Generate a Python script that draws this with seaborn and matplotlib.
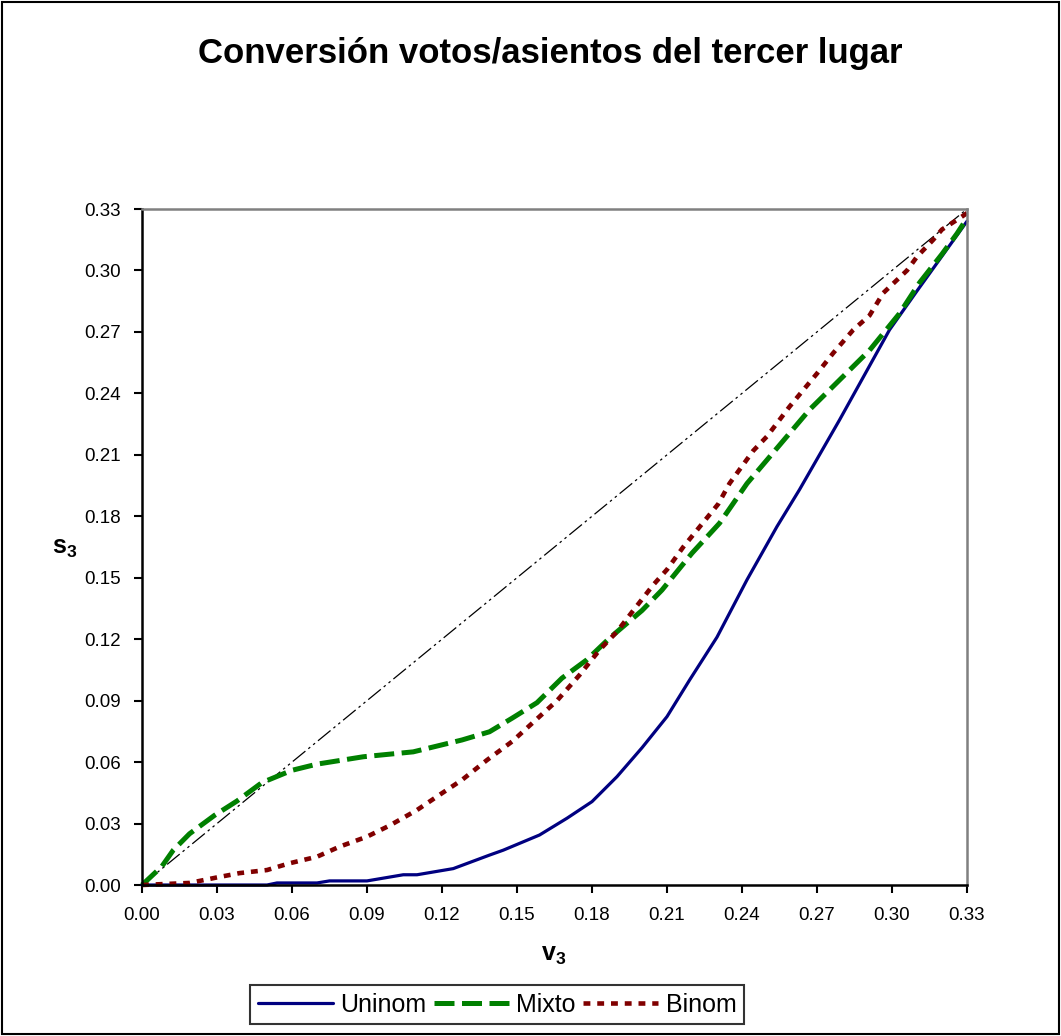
import matplotlib
matplotlib.use('Agg')

import pandas as pd
import seaborn as sns
import matplotlib.pyplot as plt
from matplotlib.patches import Rectangle
from matplotlib.lines import Line2D

# Values
uninom_x = [0, 0.05, 0.054, 0.07, 0.075, 0.09, 0.1045, 0.11, 0.1245, 0.139, 0.1445, 0.159, 0.170,
            0.180, 0.190, 0.200, 0.210, 0.219, 0.230, 0.242, 0.254, 0.263, 0.279, 0.299, 0.310, 0.330]
uninom_y = [0, 0, 0.001, 0.001, 0.002, 0.002, 0.005, 0.005, 0.008, 0.0146, 0.017, 0.0244, 0.0326,
            0.0407, 0.0529, 0.067, 0.0822, 0.100, 0.121, 0.149, 0.175, 0.193, 0.227, 0.271, 0.290, 0.324]

mixto_x = [0, 0.0079, 0.0125, 0.019, 0.029, 0.038, 0.048, 0.060, 0.070, 0.0885, 0.1085, 0.128, 0.139,
           0.148, 0.158, 0.168, 0.178, 0.187, 0.200, 0.208, 0.220, 0.231, 0.242, 0.250, 0.267, 0.279,
           0.291, 0.303, 0.311, 0.320, 0.326, 0.330]
mixto_y = [0, 0.009, 0.017, 0.025, 0.034, 0.041, 0.050, 0.056, 0.059, 0.0626, 0.065, 0.0708, 0.0748,
           0.0814, 0.089, 0.101, 0.110, 0.1205, 0.134, 0.144, 0.162, 0.1766, 0.196, 0.2075, 0.232, 0.2465,
           0.261, 0.279, 0.294, 0.308, 0.318, 0.3255]

binom_x = [0, 0.019, 0.030, 0.039, 0.05, 0.059, 0.070, 0.079, 0.090, 0.099, 0.110, 0.119, 0.128, 0.138,
           0.148, 0.157, 0.166, 0.175, 0.183, 0.190, 0.1965, 0.2045, 0.210, 0.2165, 0.2245, 0.2305, 0.235,
           0.2445, 0.250, 0.259, 0.2645, 0.270, 0.2765, 0.2845, 0.291, 0.2965, 0.306, 0.310, 0.3165, 0.320,
           0.327, 0.330]
binom_y = [0, 0.001, 0.0037, 0.0058, 0.0073, 0.0106, 0.0138, 0.0187, 0.0236, 0.029, 0.0366, 0.044, 0.0513,
           0.061, 0.070, 0.080, 0.090, 0.1025, 0.1147, 0.1237, 0.134, 0.1465, 0.154, 0.165, 0.177, 0.186,
           0.196, 0.212, 0.219, 0.2335, 0.2416, 0.2497, 0.2597, 0.271, 0.278, 0.289, 0.300, 0.3067, 0.315,
           0.320, 0.3255, 0.328]

diag_x = [0, 0.33]
diag_y = [0, 0.33]

ticks = [0.00, 0.03, 0.06, 0.09, 0.12, 0.15, 0.18, 0.21, 0.24, 0.27, 0.30, 0.33]
series_names = ['Uninom', 'Mixto', 'Binom']

sns.set_style('white')
plt.rcParams['font.family'] = ['Liberation Sans', 'DejaVu Sans']
plt.rcParams['text.color'] = 'black'
plt.rcParams['mathtext.fontset'] = 'custom'
plt.rcParams['mathtext.rm'] = 'Liberation Sans'
plt.rcParams['mathtext.bf'] = 'Liberation Sans:bold'

W, H = 1061, 1036
fig = plt.figure(figsize=(W / 100, H / 100), dpi=100)
ax = fig.add_axes([142 / W, 1 - 885 / H, (967 - 142) / W, (885 - 209) / H])

# Series styles (Excel-like)
styles = {
    'Uninom': dict(color='#000080', lw=2.3, ls='-'),
    'Mixto': dict(color='#008000', lw=3.6, ls=(0, (4.0, 1.5))),
    'Binom': dict(color='#800000', lw=3.3, ls=(0, (1.5, 1.5))),
}
data = {
    'Uninom': (uninom_x, uninom_y),
    'Mixto': (mixto_x, mixto_y),
    'Binom': (binom_x, binom_y),
}

sns.lineplot(x=diag_x, y=diag_y, ax=ax, color='black', lw=0.9,
             linestyle=(0, (13, 3, 2, 3, 2, 3)), sort=False, legend=False)

for name in series_names:
    xs, ys = data[name]
    df = pd.DataFrame({'v': xs, 's': ys})
    st = styles[name]
    sns.lineplot(data=df, x='v', y='s', ax=ax, color=st['color'], lw=st['lw'],
                 linestyle=st['ls'], sort=False, legend=False, clip_on=False)

ax.set_xlim(0, 0.33)
ax.set_ylim(0, 0.33)
ax.set_xticks(ticks)
ax.set_yticks(ticks)
ax.set_xticklabels([f'{t:.2f}' for t in ticks])
ax.set_yticklabels([f'{t:.2f}' for t in ticks])
ax.tick_params(axis='both', direction='out', length=6, width=1.5, colors='black',
               labelsize=13.5, bottom=True, left=True)
ax.tick_params(axis='x', pad=10)
ax.tick_params(axis='y', pad=9)
ax.set_xlabel('')
ax.set_ylabel('')

for side in ['left', 'bottom']:
    ax.spines[side].set_color('black')
    ax.spines[side].set_linewidth(1.8)
for side in ['top', 'right']:
    ax.spines[side].set_color('#808080')
    ax.spines[side].set_linewidth(1.8)

fig.text(550 / W, 1 - 53 / H, 'Conversión votos/asientos del tercer lugar',
         ha='center', va='center', fontsize=25, fontweight='bold', color='black')
fig.text(554 / W, 1 - 955 / H, r'v$_\mathbf{3}$', ha='center', va='center',
         fontsize=18, fontweight='bold', color='black')
fig.text(65 / W, 1 - 548 / H, r's$_\mathbf{3}$', ha='center', va='center',
         fontsize=18, fontweight='bold', color='black')

handles = [Line2D([], [], color=styles[n]['color'], lw=styles[n]['lw'], ls=styles[n]['ls'])
           for n in series_names]
leg = fig.legend(handles, series_names, loc='center',
                 bbox_to_anchor=(497 / W, 1 - 1004.5 / H), ncol=3, fontsize=18,
                 frameon=True, fancybox=False, handlelength=3.0, handletextpad=0.3,
                 columnspacing=0.3, borderpad=0.3)
leg.get_frame().set_edgecolor('black')
leg.get_frame().set_linewidth(1.5)
for t in leg.get_texts():
    t.set_color('black')

fig.patches.append(Rectangle((0.002, 0.002), 0.996, 0.996, transform=fig.transFigure,
                             fill=False, ec='black', lw=1.5))

fig.savefig('out.png', dpi=100)
